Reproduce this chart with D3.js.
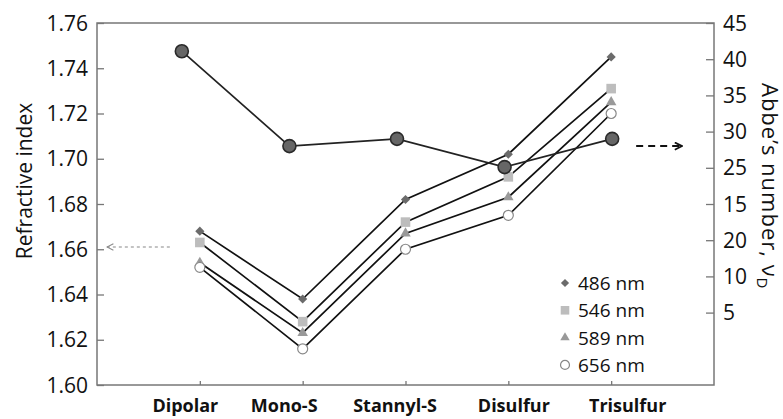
<!DOCTYPE html>
<html>
<head>
<meta charset="utf-8">
<script src="https://cdn.jsdelivr.net/npm/d3@7"></script>
<style>
html, body { margin: 0; background: #fff; }
svg { display: block; }
text { font-family: "Open Sans", sans-serif; fill: #111; }
</style>
</head>
<body>
<script>
// data
const categories = ['Dipolar', 'Mono-S', 'Stannyl-S', 'Disulfur', 'Trisulfur'];
const n486 = [1.668, 1.638, 1.682, 1.702, 1.745];
const n546 = [1.663, 1.628, 1.672, 1.692, 1.731];
const n589 = [1.654, 1.623, 1.667, 1.683, 1.725];
const n656 = [1.652, 1.616, 1.660, 1.675, 1.720];
const abbe = [41.1, 28.0, 29.0, 25.1, 29.0];
const seriesNames = ['486 nm', '546 nm', '589 nm', '656 nm'];
const leftTicks = [1.60, 1.62, 1.64, 1.66, 1.68, 1.70, 1.72, 1.74, 1.76];
const rightTicks = [5, 10, 15, 20, 25, 30, 35, 40, 45];
const rightTickLabels = ['5', '10', '20', '15', '25', '30', '35', '40', '45'];

const width = 783;
const height = 419;
const margin = {top: 23, right: 69, bottom: 34, left: 97};
const innerWidth = width - margin.left - margin.right;
const innerHeight = height - margin.top - margin.bottom;
// the category names are not centred on their ticks in the original
const labelShift = [-15, -19, -11, 5, 16];

const svg = d3.select('body').append('svg').attr('width', width).attr('height', height);
const grp = svg.append('g').attr('transform', `translate(${margin.left},${margin.top})`);

const x = d3.scalePoint().domain(categories).range([0, innerWidth]).padding(1);
// the Abbe series sits on a slightly shifted category axis
const xAbbe = d3.scalePoint().domain(categories).range([x(categories[0]) - 18, x(categories[4]) + 1]);
const y = d3.scaleLinear().domain([1.60, 1.76]).range([innerHeight, 0]);
const y2 = d3.scaleLinear().domain([-5, 45]).range([innerHeight, 0]);

// frame
grp.append('rect').attr('width', innerWidth).attr('height', innerHeight)
    .attr('fill', 'none').attr('stroke', '#777').attr('stroke-width', 1.5);

//axes
const yAxis = grp.append('g')
    .call(d3.axisLeft(y).tickValues(leftTicks).tickFormat(d3.format('.2f')).tickSizeInner(-7).tickSizeOuter(0).tickPadding(9));
const y2Axis = grp.append('g').attr('transform', `translate(${innerWidth},0)`)
    .call(d3.axisRight(y2).tickValues(rightTicks).tickFormat((d, i) => rightTickLabels[i]).tickSizeInner(-8).tickSizeOuter(0).tickPadding(9));
const xAxis = grp.append('g').attr('transform', `translate(0,${innerHeight})`)
    .call(d3.axisBottom(x).tickSizeInner(-4).tickSizeOuter(0).tickPadding(14));

[yAxis, y2Axis, xAxis].forEach(a => {
    a.select('.domain').remove();
    a.attr('font-family', null).attr('font-size', null);
    a.selectAll('line').attr('stroke', '#777').attr('stroke-width', 1.3);
    a.selectAll('text').attr('font-size', 21).attr('fill', '#111');
});
yAxis.selectAll('text').attr('dy', null).attr('y', 7);
y2Axis.selectAll('text').attr('dy', null).attr('y', 7);
xAxis.selectAll('text').attr('font-size', 18).attr('font-weight', 'bold')
    .attr('dy', null).attr('y', 27)
    .attr('dx', (d, i) => labelShift[i]);

// axis titles
svg.append('text').attr('transform', 'translate(32,181) rotate(-90)')
    .attr('text-anchor', 'middle').attr('font-size', 21).text('Refractive index');
const t2 = svg.append('text').attr('transform', 'translate(762,83) rotate(90)')
    .attr('font-size', 22).attr('letter-spacing', 1);
t2.append('tspan').text('Abbe’s number, ν');
t2.append('tspan').attr('font-size', 15).attr('dy', 5).text('D');

// arrows
const defs = svg.append('defs');
defs.append('marker').attr('id', 'headL').attr('viewBox', '0 0 10 10').attr('refX', 9).attr('refY', 5)
    .attr('markerWidth', 8).attr('markerHeight', 8).attr('markerUnits', 'userSpaceOnUse').attr('orient', 'auto')
    .append('path').attr('d', 'M1,1 L9,5 L1,9').attr('fill', 'none').attr('stroke', '#888').attr('stroke-width', 1.3);
defs.append('marker').attr('id', 'headR').attr('viewBox', '0 0 10 10').attr('refX', 9).attr('refY', 5)
    .attr('markerWidth', 9).attr('markerHeight', 9).attr('markerUnits', 'userSpaceOnUse').attr('orient', 'auto')
    .append('path').attr('d', 'M1,1 L9,5 L1,9').attr('fill', 'none').attr('stroke', '#111').attr('stroke-width', 2);

grp.append('line').attr('x1', x(categories[0]) - 30).attr('x2', 10)
    .attr('y1', y(1.661)).attr('y2', y(1.661))
    .attr('stroke', '#888').attr('stroke-width', 1.2).attr('stroke-dasharray', '3,3')
    .attr('marker-end', 'url(#headL)');
grp.append('line').attr('x1', xAbbe(categories[4]) + 24).attr('x2', innerWidth - 32)
    .attr('y1', y2(28.0)).attr('y2', y2(28.0))
    .attr('stroke', '#111').attr('stroke-width', 2).attr('stroke-dasharray', '7,5')
    .attr('marker-end', 'url(#headR)');

// refractive index series
const series = [
    {name: seriesNames[0], values: n486, shape: 'diamond', color: '#6b6b6b'},
    {name: seriesNames[1], values: n546, shape: 'square', color: '#bdbdbd'},
    {name: seriesNames[2], values: n589, shape: 'triangle', color: '#999'},
    {name: seriesNames[3], values: n656, shape: 'circle', color: '#fff'}
];

const line = d3.line().x((d, i) => x(categories[i])).y(d => y(d));
grp.selectAll('.nline').data(series).join('path').attr('class', 'nline')
    .attr('d', s => line(s.values)).attr('fill', 'none').attr('stroke', '#111').attr('stroke-width', 1.7);

const abbeLine = d3.line().x((d, i) => xAbbe(categories[i])).y(d => y2(d));
grp.append('path').attr('d', abbeLine(abbe)).attr('fill', 'none').attr('stroke', '#222').attr('stroke-width', 1.7);

function drawMarker(g, shape, color, scale) {
    if (shape === 'diamond') {
        g.append('path').attr('d', d3.symbol(d3.symbolSquare, 42 * scale)()).attr('transform', 'rotate(45)').attr('fill', color);
    } else if (shape === 'square') {
        g.append('path').attr('d', d3.symbol(d3.symbolSquare, 92 * scale)()).attr('fill', color);
    } else if (shape === 'triangle') {
        g.append('path').attr('d', d3.symbol(d3.symbolTriangle, 48 * scale)()).attr('fill', color);
    } else {
        g.append('circle').attr('r', 5 * Math.sqrt(scale)).attr('fill', color).attr('stroke', '#888').attr('stroke-width', 1.2);
    }
}

series.forEach(s => {
    s.values.forEach((v, i) => {
        const g = grp.append('g').attr('transform', `translate(${x(categories[i])},${y(v)})`);
        drawMarker(g, s.shape, s.color, 1);
    });
});

grp.selectAll('.abbe').data(abbe).join('circle').attr('class', 'abbe')
    .attr('cx', (d, i) => xAbbe(categories[i])).attr('cy', d => y2(d)).attr('r', 6.5)
    .attr('fill', '#666').attr('stroke', '#2a2a2a').attr('stroke-width', 1.6);

// legend
const legend = svg.append('g').attr('transform', 'translate(565,283)');
series.forEach((s, i) => {
    const row = legend.append('g').attr('transform', `translate(0,${i * 27.3})`);
    drawMarker(row, s.shape, s.color, 0.8);
    row.append('text').attr('x', 13).attr('y', 7).attr('font-size', 19).text(s.name);
});
</script>
</body>
</html>
